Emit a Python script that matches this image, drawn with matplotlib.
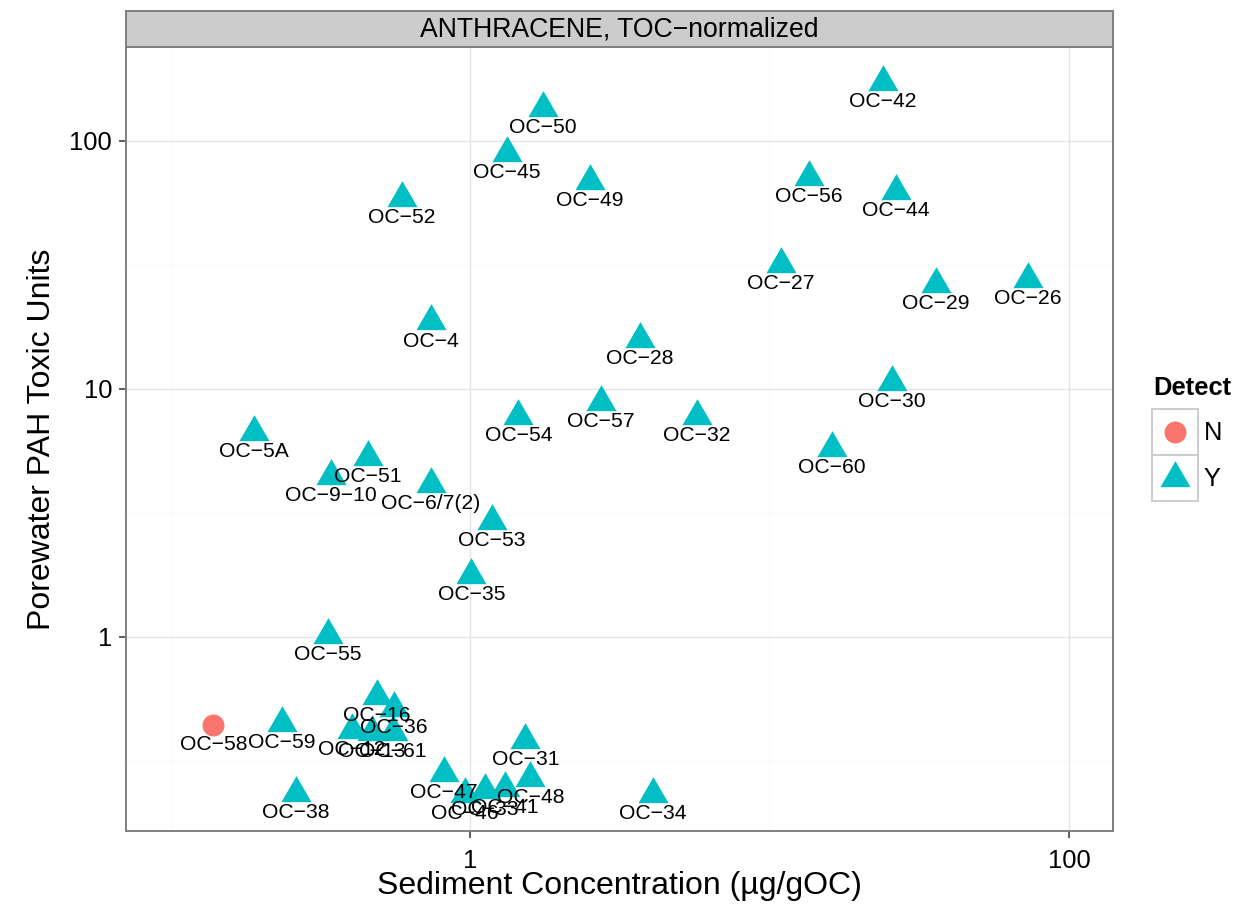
import matplotlib
matplotlib.use("Agg")
import matplotlib.pyplot as plt
import numpy as np

plt.rcParams['font.family'] = ['Liberation Sans', 'DejaVu Sans']

# ---- data ----
stations = ["OC\u221242", "OC\u221250", "OC\u221245", "OC\u221249", "OC\u221252", "OC\u221256",
            "OC\u221244", "OC\u221227", "OC\u221229", "OC\u221226", "OC\u22124", "OC\u221228",
            "OC\u221230", "OC\u221254", "OC\u221257", "OC\u221232", "OC\u221260", "OC\u22125A",
            "OC\u221251", "OC\u22129\u221210", "OC\u22126/7(2)", "OC\u221253", "OC\u221235",
            "OC\u221255", "OC\u221258", "OC\u221259", "OC\u221216", "OC\u221236", "OC\u221212",
            "OC\u221213", "OC\u221261", "OC\u221238", "OC\u221247", "OC\u221231", "OC\u221248",
            "OC\u221234", "OC\u221246", "OC\u221233", "OC\u221241"]
sediment = [23.9, 1.75, 1.33, 2.52, 0.593, 13.5,
            26.4, 10.9, 36.0, 73.0, 0.741, 3.70,
            25.7, 1.45, 2.74, 5.73, 16.2, 0.190,
            0.456, 0.343, 0.741, 1.18, 1.01,
            0.336, 0.139, 0.236, 0.489, 0.557, 0.404,
            0.471, 0.553, 0.262, 0.819, 1.53, 1.59,
            4.08, 0.962, 1.12, 1.31]
toxic_units = [173, 135.5, 89.5, 69.0, 58.9, 71.6,
               62.8, 31.9, 26.5, 27.8, 18.7, 15.9,
               10.7, 7.79, 8.87, 7.79, 5.78, 6.71,
               5.32, 4.46, 4.14, 2.94, 1.78,
               1.02, 0.442, 0.450, 0.578, 0.517, 0.422,
               0.414, 0.414, 0.235, 0.283, 0.384, 0.270,
               0.233, 0.233, 0.242, 0.246]
detect = ["Y"] * 24 + ["N"] + ["Y"] * 14

x_ticks = [1, 100]
x_tick_labels = ["1", "100"]
y_ticks = [1, 10, 100]
y_tick_labels = ["1", "10", "100"]

colors = {"N": "#F8766D", "Y": "#00BFC4"}
tri = [(0, 1), (-0.8660254, -0.5), (0.8660254, -0.5)]

W, H = 1259, 914
fig = plt.figure(figsize=(W / 100, H / 100), dpi=100)

def fx(px):
    return px / W

def fy(py):
    return 1 - py / H

L, R, T, B = 126, 1113, 47, 831
ax = fig.add_axes([fx(L), fy(B), fx(R) - fx(L), fy(T) - fy(B)])
ax.set_xscale('log')
ax.set_yscale('log')
ax.set_xlim(0.0710, 140.3)
ax.set_ylim(0.165, 239)

# grid
for v in [0.1, 10]:
    ax.axvline(v, color='#FAFAFA', lw=1.0, zorder=0)
for v in [10 ** -0.5, 10 ** 0.5, 10 ** 1.5]:
    ax.axhline(v, color='#FAFAFA', lw=1.0, zorder=0)
for v in x_ticks:
    ax.axvline(v, color='#E5E5E5', lw=1.0, zorder=0)
for v in y_ticks:
    ax.axhline(v, color='#E5E5E5', lw=1.0, zorder=0)

ax.set_xticks(x_ticks)
ax.set_xticklabels(x_tick_labels)
ax.set_yticks(y_ticks)
ax.set_yticklabels(y_tick_labels)
ax.minorticks_off()
ax.tick_params(axis='both', length=5, width=1.1, color='#333333', labelsize=18.4,
               labelcolor='black')
ax.tick_params(axis='x', pad=8)
ax.tick_params(axis='y', pad=5)
for s in ax.spines.values():
    s.set_color('#7F7F7F')
    s.set_linewidth(1.4)

for xi, yi, d in zip(sediment, toxic_units, detect):
    if d == "N":
        ax.plot(xi, yi, marker='o', ms=15.8, color=colors[d], mec='none', ls='none', zorder=3)
    else:
        ax.plot(xi, yi, marker=tri, ms=25, color=colors[d], mec='none', ls='none', zorder=3)
for xi, yi, lab in zip(sediment, toxic_units, stations):
    ax.annotate(lab, (xi, yi), xytext=(0, -14.3), textcoords='offset points',
                ha='center', va='center', fontsize=15.2, color='black', zorder=4)

ax.set_xlabel("Sediment Concentration (\u00b5g/gOC)", fontsize=23)
ax.set_ylabel("Porewater PAH Toxic Units", fontsize=23)
ax.xaxis.set_label_coords(fx((L + R) / 2), fy(886), transform=fig.transFigure)
ax.xaxis.label.set_va('center')
ax.yaxis.set_label_coords(fx(42), fy((T + B) / 2), transform=fig.transFigure)
ax.yaxis.label.set_va('center')

# strip
sax = fig.add_axes([fx(L), fy(T), fx(R) - fx(L), fy(11) - fy(T)])
sax.set_facecolor('#CCCCCC')
sax.set_xticks([])
sax.set_yticks([])
for s in sax.spines.values():
    s.set_color('#7F7F7F')
    s.set_linewidth(1.4)
sax.text(0.5, 0.5, "ANTHRACENE, TOC\u2212normalized", ha='center', va='center',
         fontsize=19.2, transform=sax.transAxes)

# legend
fig.text(fx(1153), fy(388), "Detect", fontsize=18.4, fontweight='bold', ha='left', va='center')
for i, (lab, mk, ms) in enumerate([("N", 'o', 15.8), ("Y", tri, 25)]):
    top = 409 + i * 46
    kax = fig.add_axes([fx(1152), fy(top + 46), fx(1198) - fx(1152), fy(top) - fy(top + 46)])
    kax.set_xlim(0, 1)
    kax.set_ylim(0, 1)
    kax.set_xticks([])
    kax.set_yticks([])
    for s in kax.spines.values():
        s.set_color('#CCCCCC')
        s.set_linewidth(1.4)
    kax.plot(0.5, 0.5, marker=mk, ms=ms, color=colors[lab], mec='none', ls='none')
    fig.text(fx(1204), fy(top + 24), lab, fontsize=18.4, ha='left', va='center')

fig.savefig("out.png", dpi=100)
